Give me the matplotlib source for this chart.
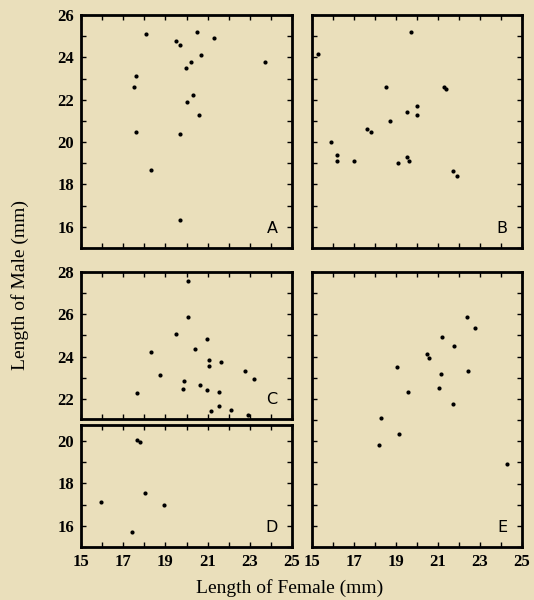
import matplotlib
matplotlib.use("Agg")
import matplotlib.pyplot as plt
from matplotlib.ticker import MultipleLocator, FixedLocator

# ---- data (female length, male length), mm ----
A_female = [18.07, 19.5, 19.7, 20.5, 21.3, 20.7, 20.2, 19.99, 23.7, 17.6, 17.5, 20.3, 20.0, 20.6, 17.6, 19.7, 18.3, 19.7]
A_male   = [25.1, 24.78, 24.6, 25.2, 24.9, 24.1, 23.8, 23.5, 23.8, 23.1, 22.6, 22.2, 21.9, 21.3, 20.5, 20.4, 18.7, 16.3]

B_female = [15.3, 19.73, 18.5, 21.3, 21.4, 20.0, 19.5, 20.0, 18.7, 17.6, 17.8, 15.9, 16.2, 16.2, 17.0, 19.5, 19.6, 19.1, 21.7, 21.9]
B_male   = [24.18, 25.19, 22.59, 22.62, 22.51, 21.7, 21.4, 21.3, 21.0, 20.6, 20.5, 20.0, 19.4, 19.1, 19.1, 19.3, 19.1, 19.0, 18.64, 18.4]

C_female = [20.07, 20.07, 19.48, 20.97, 20.38, 18.3, 21.05, 21.05, 21.64, 18.75, 22.76, 23.19, 19.86, 19.85, 20.65, 20.97, 21.54, 17.67, 21.14, 21.52, 22.12, 22.93]
C_male   = [27.58, 25.86, 25.06, 24.84, 24.38, 24.24, 23.85, 23.55, 23.75, 23.14, 23.33, 22.95, 22.83, 22.47, 22.67, 22.43, 22.34, 22.26, 21.44, 21.65, 21.46, 21.25]

D_female = [17.66, 17.79, 18.05, 15.94, 18.93, 17.44]
D_male   = [20.05, 19.94, 17.53, 17.1, 17.0, 15.7]

E_female = [22.37, 22.78, 21.18, 21.78, 20.46, 20.57, 19.05, 21.14, 22.44, 21.03, 19.56, 21.73, 18.29, 19.16, 18.19, 24.29]
E_male   = [25.89, 25.33, 24.92, 24.51, 24.13, 23.93, 23.53, 23.2, 23.3, 22.53, 22.33, 21.74, 21.11, 20.33, 19.82, 18.91]

x_ticklabels = [15, 17, 19, 21, 23, 25]
A_yticks = [16, 18, 20, 22, 24, 26]
C_yticks = [22, 24, 26, 28]
D_yticks = [16, 18, 20]

BG = "#eadfbb"
plt.rcParams["font.family"] = ["Liberation Serif", "DejaVu Serif"]

fig = plt.figure(figsize=(5.34, 6.0), dpi=100, facecolor=BG)

W, H = 534.0, 600.0
def box(l, r, t, b):
    return [l / W, (H - b) / H, (r - l) / W, (b - t) / H]

panels = [
    ("A", box(81, 292, 15, 248), (15, 26), A_female, A_male, A_yticks, False),
    ("B", box(312, 522, 15, 248), (15, 26), B_female, B_male, None, False),
    ("C", box(81, 292, 272, 419), (21.05, 28), C_female, C_male, C_yticks, False),
    ("D", box(81, 292, 425, 547), (15, 20.75), D_female, D_male, D_yticks, True),
    ("E", box(312, 522, 272, 547), (15, 28), E_female, E_male, None, True),
]

for name, rect, ylim, xs, ys, yt, showx in panels:
    ax = fig.add_axes(rect)
    ax.set_facecolor(BG)
    ax.scatter(xs, ys, s=9, color="black", zorder=3, linewidths=0)
    ax.set_xlim(15, 25)
    ax.set_ylim(*ylim)
    for sp in ax.spines.values():
        sp.set_linewidth(2.0)
        sp.set_color("black")
    ax.xaxis.set_minor_locator(MultipleLocator(1))
    ax.yaxis.set_minor_locator(MultipleLocator(1))
    ax.xaxis.set_major_locator(FixedLocator(x_ticklabels))
    if yt is not None:
        ax.yaxis.set_major_locator(FixedLocator(yt))
    else:
        ax.yaxis.set_major_locator(MultipleLocator(2))
    ax.tick_params(which="both", direction="in", top=True, right=True,
                   length=3.5, width=1.0, color="black")
    ax.tick_params(axis="both", labelsize=12, pad=5)
    if yt is None:
        ax.tick_params(axis="y", labelleft=False)
    else:
        for lab in ax.get_yticklabels():
            lab.set_fontweight("bold")
    if not showx:
        ax.tick_params(axis="x", labelbottom=False)
    else:
        for lab in ax.get_xticklabels():
            lab.set_fontweight("bold")
    ax.annotate(name, xy=(1, 0), xycoords="axes fraction",
                xytext=(-14.4, 13.7), textcoords="offset points",
                ha="center", va="center", fontsize=11.5,
                family=["DejaVu Sans"])

fig.text(20 / W, 1 - 285 / H, "Length of Male (mm)", rotation=90,
         ha="center", va="center", fontsize=14)
fig.text(290 / W, 1 - 588 / H, "Length of Female (mm)",
         ha="center", va="center", fontsize=14)

fig.savefig("out.png", dpi=100, facecolor=BG)
